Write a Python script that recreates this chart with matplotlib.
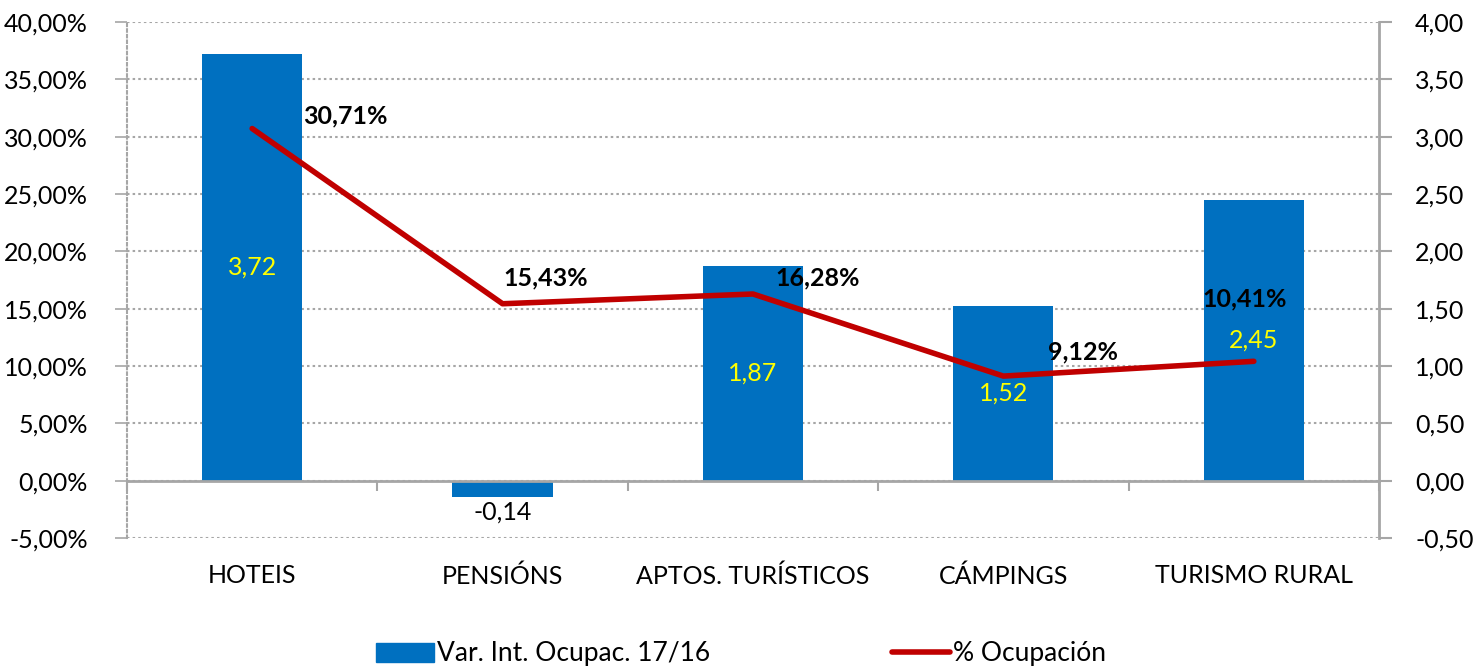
import matplotlib
matplotlib.use("Agg")
import matplotlib.pyplot as plt
from matplotlib.ticker import FuncFormatter, FixedLocator
import numpy as np

categories = ["HOTEIS", "PENSIÓNS", "APTOS. TURÍSTICOS", "CÁMPINGS", "TURISMO RURAL"]
var_int = [3.72, -0.14, 1.87, 1.52, 2.45]          # right axis (bars)
ocupacion = [30.71, 15.43, 16.28, 9.12, 10.41]     # left axis (line, %)
# label offsets for the line labels, pixels (dx, dy)
line_lbl_off = [(93, 13), (43, 26), (65, 16), (80, 24), (-9, 62)]

BLUE = "#0070C0"
RED = "#C00000"
GRID = "#A6A6A6"

plt.rcParams["font.family"] = ["Lato", "DejaVu Sans"]
FS = 18

fig = plt.figure(figsize=(14.76, 6.69), dpi=100)
rect = [0.0860, 0.1958, 0.8483, 0.7713]
ax_bar = fig.add_axes(rect)
ax_line = fig.add_axes(rect)
ax_line.patch.set_visible(False)

x = np.arange(len(categories))

# --- bars (right axis) ---
ax_bar.set_xlim(-0.5, len(categories) - 0.5)
ax_bar.set_ylim(-0.5, 4.0)
ax_bar.set_yticks(np.arange(-0.5, 4.01, 0.5))
ax_bar.yaxis.tick_right()
ax_bar.yaxis.set_major_formatter(FuncFormatter(lambda v, p: f"{v:.2f}".replace(".", ",")))
ax_bar.tick_params(axis="y", direction="out", length=9, width=1.5, color=GRID,
                   labelsize=FS, pad=17)
ax_bar.grid(axis="y", linestyle=(0, (1.2, 1.5)), color=GRID, linewidth=1.5, zorder=0)
ax_bar.set_axisbelow(True)
ax_bar.bar(x, var_int, width=0.4, color=BLUE, zorder=2)

for s in ["top", "left"]:
    ax_bar.spines[s].set_visible(False)
ax_bar.spines["right"].set_color(GRID)
ax_bar.spines["right"].set_linewidth(2)
ax_bar.spines["bottom"].set_position(("data", 0))
ax_bar.spines["bottom"].set_color(GRID)
ax_bar.spines["bottom"].set_linewidth(2)
ax_bar.spines["bottom"].set_zorder(3)
ax_bar.xaxis.set_major_locator(FixedLocator(np.arange(-0.5, len(categories), 1.0)))
ax_bar.set_xticklabels([])
ax_bar.tick_params(axis="x", direction="out", length=7, width=1.5, color=GRID)

for xi, v in zip(x, var_int):
    txt = f"{v:.2f}".replace(".", ",")
    if v >= 0:
        ax_bar.annotate(txt, (xi, v / 2), ha="center", va="center",
                        color="#FFFF00", fontsize=FS, zorder=4)
    else:
        ax_bar.annotate(txt, (xi, v), xytext=(0, -4), textcoords="offset pixels",
                        ha="center", va="top", color="black", fontsize=FS, zorder=4)

# --- line (left axis) ---
ax_line.set_xlim(-0.5, len(categories) - 0.5)
ax_line.set_ylim(-5, 40)
ax_line.set_yticks(np.arange(-5, 40.1, 5))
ax_line.yaxis.set_major_formatter(FuncFormatter(lambda v, p: f"{v:.2f}%".replace(".", ",")))
ax_line.tick_params(axis="y", direction="out", length=9, width=1.2, color=GRID,
                    labelsize=FS, pad=19)
ax_line.plot(x, ocupacion, color=RED, linewidth=4, solid_capstyle="round", zorder=5)
ax_line.set_xticks(x)
ax_line.set_xticklabels(categories, fontsize=FS)
ax_line.tick_params(axis="x", length=0, pad=19)
for s in ["top", "right", "bottom"]:
    ax_line.spines[s].set_visible(False)
ax_line.spines["left"].set_linestyle((0, (1.2, 1.5)))
ax_line.spines["left"].set_color(GRID)
ax_line.spines["left"].set_linewidth(1.5)

for xi, v, off in zip(x, ocupacion, line_lbl_off):
    ax_line.annotate(f"{v:.2f}%".replace(".", ","), (xi, v), xytext=off,
                     textcoords="offset pixels", ha="center", va="center",
                     fontsize=FS, fontweight="bold", color="black", zorder=6)

# --- legend ---
h_bar = plt.Rectangle((0, 0), 1, 1, color=BLUE)
h_line = plt.Line2D([0], [0], color=RED, linewidth=4, solid_capstyle="round")
fig.legend([h_bar, h_line], ["Var. Int. Ocupac. 17/16", "% Ocupación"],
           loc="center", bbox_to_anchor=(741 / 1476, 1 - 654 / 669), ncol=2,
           frameon=False, fontsize=19, handlelength=2.2, handletextpad=0.1,
           columnspacing=6.9, borderpad=0)

fig.savefig("out.png", dpi=100)
